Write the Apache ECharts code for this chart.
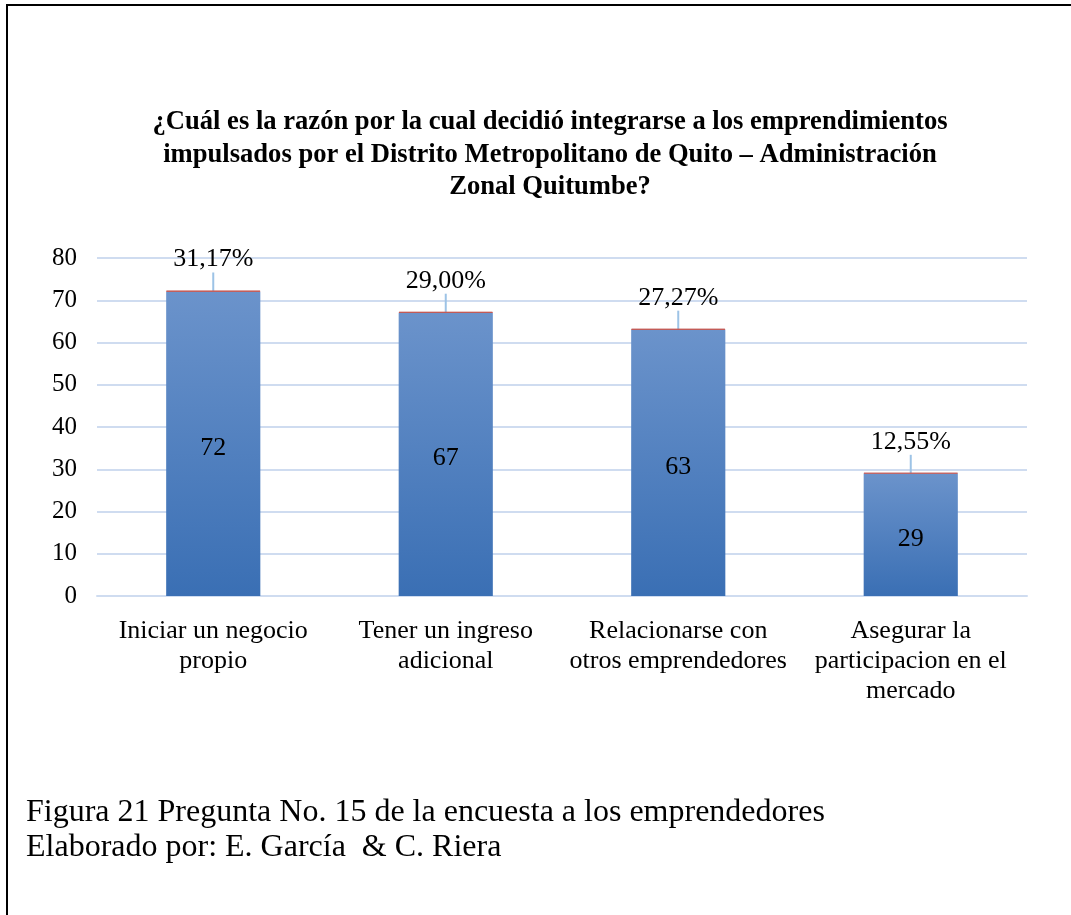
<!DOCTYPE html>
<html>
<head>
<meta charset="utf-8">
<script src="https://cdn.jsdelivr.net/npm/echarts@6/dist/echarts.min.js"></script>
<style>html,body{margin:0;padding:0;background:#fff}#c{width:1071px;height:915px}</style>
</head>
<body>
<div id="c"></div>
<script>
const titleText = '¿Cuál es la razón por la cual decidió integrarse a los emprendimientos\nimpulsados por el Distrito Metropolitano de Quito – Administración\nZonal Quitumbe?';
const categories = ['Iniciar un negocio\npropio', 'Tener un ingreso\nadicional', 'Relacionarse con\notros emprendedores', 'Asegurar la\nparticipacion en el\nmercado'];
const counts = [72, 67, 63, 29];
const percents = [0.3117, 0.29, 0.2727, 0.1255];
const percentLabels = ['31,17%', '29,00%', '27,27%', '12,55%'];
const yTicks = { min: 0, max: 80, interval: 10 };
const captionLines = ['Figura 21 Pregunta No. 15 de la encuesta a los emprendedores', 'Elaborado por: E. García  & C. Riera'];

const chart = echarts.init(document.getElementById('c'), null, { renderer: 'canvas' });
const serif = '"Liberation Serif", "Times New Roman", serif';
chart.setOption({
  backgroundColor: '#fff',
  animation: false,
  title: {
    text: titleText,
    left: 545, top: 101, textAlign: 'center',
    textStyle: { fontFamily: serif, fontWeight: 'bold', fontSize: 26.6, lineHeight: 32.5, color: '#000' }
  },
  grid: { left: 97, right: 44, top: 258, bottom: 319, containLabel: false },
  xAxis: {
    type: 'category', data: categories,
    axisLine: { lineStyle: { color: '#cfdcf0', width: 2 } },
    axisTick: { show: false },
    axisLabel: { fontFamily: serif, fontSize: 26, lineHeight: 30, color: '#000', margin: 20, interval: 0 }
  },
  yAxis: {
    type: 'value', min: yTicks.min, max: yTicks.max, interval: yTicks.interval,
    axisLine: { show: false }, axisTick: { show: false },
    splitLine: { lineStyle: { color: '#cfdcf0', width: 2 } },
    axisLabel: { fontFamily: serif, fontSize: 25, color: '#000', margin: 20 }
  },
  series: [
    {
      type: 'bar', stack: 's', data: counts, barWidth: '40.5%',
      itemStyle: {
        color: new echarts.graphic.LinearGradient(0, 0, 0, 1, [
          { offset: 0, color: '#6b93cb' }, { offset: 1, color: '#3a6fb4' }
        ], false)
      },
      label: { show: true, position: 'inside', offset: [0, 4], fontFamily: serif, fontSize: 26, color: '#000' }
    },
    {
      type: 'bar', stack: 's', data: percents, barWidth: '40.5%',
      itemStyle: { color: '#c0504d', borderColor: '#c0504d', borderWidth: 0.8 },
      label: {
        show: true, position: 'top', distance: 0,
        fontFamily: serif, fontSize: 26, color: '#000',
        formatter: p => percentLabels[p.dataIndex]
      },
      labelLayout: { dy: -18 },
      labelLine: { show: true, lineStyle: { color: '#9dc3e6', width: 2 } }
    }
  ],
  graphic: [
    { type: 'rect', shape: { x: 7, y: 5, width: 1200, height: 1200 }, style: { fill: 'none', stroke: '#000', lineWidth: 2 }, silent: true },
    { type: 'text', x: 26, y: 813, style: { text: captionLines[0], font: '32px ' + serif, fill: '#000', verticalAlign: 'middle' } },
    { type: 'text', x: 26, y: 848, style: { text: captionLines[1], font: '32px ' + serif, fill: '#000', verticalAlign: 'middle' } }
  ]
});
</script>
</body>
</html>
